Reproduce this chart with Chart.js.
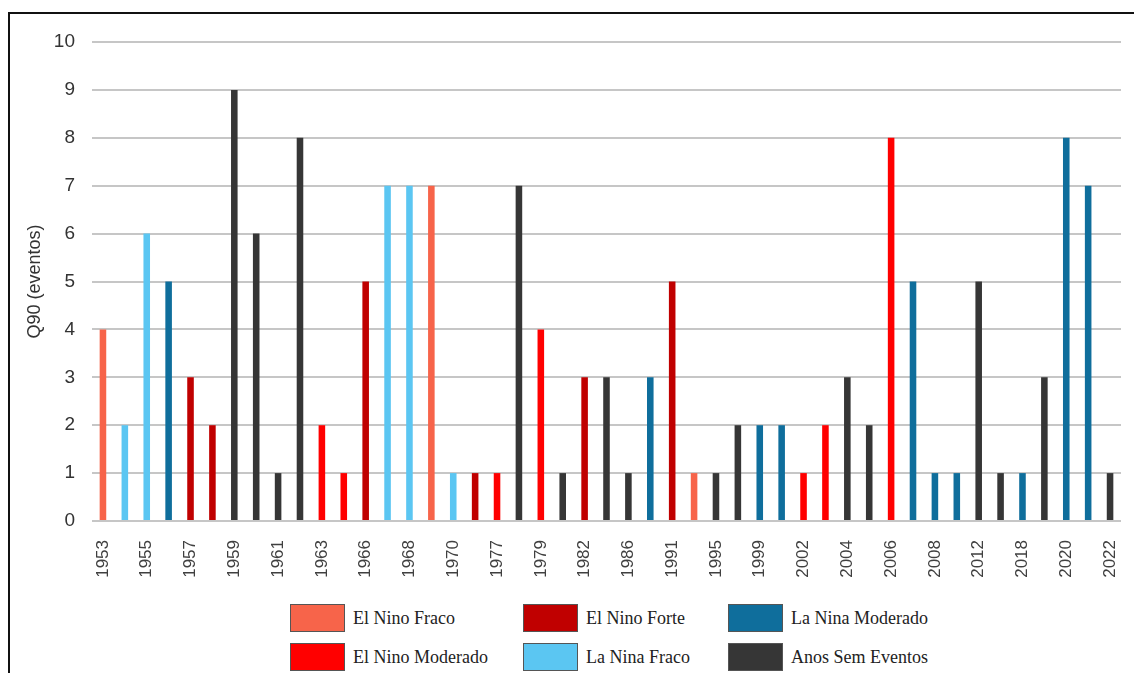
<!DOCTYPE html>
<html>
<head>
<meta charset="utf-8">
<script src="https://cdn.jsdelivr.net/npm/chart.js@4.4.1/dist/chart.umd.min.js"></script>
<style>
  body { margin: 0; background: #fff; width: 1134px; height: 673px; overflow: hidden; position: relative; }
  .frame { position: absolute; left: 8px; top: 12px; width: 1140px; height: 680px;
           border-left: 2px solid #111; border-top: 2px solid #111; }
  #chartBox { position: absolute; left: 0; top: 0; }
  .legend-item { position: absolute; display: flex; align-items: center;
                 font-family: "Liberation Serif", serif; font-size: 18px; color: #222; white-space: nowrap; }
  .legend-item span.box { display: inline-block; width: 53px; height: 26px; border: 1px solid #555; margin-right: 8px; }
</style>
</head>
<body>
<div class="frame"></div>
<canvas id="chartBox" width="1134" height="600"></canvas>
<div id="legend"></div>
<script>
// anos (apenas os de índice par aparecem no eixo)
const years = [1953, 1954, 1955, 1956, 1957, 1958, 1959, 1960, 1961, 1962, 1963, 1965,
               1966, 1967, 1968, 1969, 1970, 1972, 1977, 1978, 1979, 1981, 1982, 1985,
               1986, 1988, 1991, 1994, 1995, 1997, 1999, 2000, 2002, 2003, 2004, 2005,
               2006, 2007, 2008, 2010, 2012, 2014, 2018, 2019, 2020, 2021, 2022];

// Q90 (eventos) por ano
const q90 = [4, 2, 6, 5, 3, 2, 9, 6, 1, 8, 2, 1,
             5, 7, 7, 7, 1, 1, 1, 7, 4, 1, 3, 3,
             1, 3, 5, 1, 1, 2, 2, 2, 1, 2, 3, 2,
             8, 5, 1, 1, 5, 1, 1, 3, 8, 7, 1];

// classificação ENSO de cada ano
const enso = ['ENF', 'LNF', 'LNF', 'LNM', 'ENFo', 'ENFo', 'SE', 'SE', 'SE', 'SE', 'ENM', 'ENM',
              'ENFo', 'LNF', 'LNF', 'ENF', 'LNF', 'ENFo', 'ENM', 'SE', 'ENM', 'SE', 'ENFo', 'SE',
              'SE', 'LNM', 'ENFo', 'ENF', 'SE', 'SE', 'LNM', 'LNM', 'ENM', 'ENM', 'SE', 'SE',
              'ENM', 'LNM', 'LNM', 'LNM', 'SE', 'SE', 'LNM', 'SE', 'LNM', 'LNM', 'SE'];

const categoryKeys = ['ENF', 'ENM', 'ENFo', 'LNF', 'LNM', 'SE'];
const categoryNames = ['El Nino Fraco', 'El Nino Moderado', 'El Nino Forte',
                       'La Nina Fraco', 'La Nina Moderado', 'Anos Sem Eventos'];
const categoryColors = ['#F7644A', '#FF0000', '#C00000', '#5BC6F2', '#0F6E9C', '#363636'];

const yTicks = [0, 1, 2, 3, 4, 5, 6, 7, 8, 9, 10];

const datasets = categoryKeys.map((key, c) => ({
    label: categoryNames[c],
    data: q90.map((v, i) => enso[i] === key ? v : null),
    backgroundColor: categoryColors[c],
    borderWidth: 0,
    barPercentage: 0.3,
    categoryPercentage: 1.0
}));

new Chart(document.getElementById('chartBox'), {
    type: 'bar',
    data: { labels: years.map(String), datasets: datasets },
    options: {
        responsive: false,
        animation: false,
        layout: { padding: { top: 42, right: 13, left: 0, bottom: 0 } },
        plugins: { legend: { display: false }, tooltip: { enabled: false } },
        scales: {
            x: {
                stacked: true,
                grid: { display: false },
                border: { display: false },
                ticks: {
                    autoSkip: false,
                    minRotation: 90,
                    maxRotation: 90,
                    padding: 11,
                    color: '#404040',
                    font: { family: 'Liberation Sans', size: 17 },
                    callback: (v, i) => i % 2 === 0 ? years[i] : ''
                },
                afterFit: (scale) => {
                    scale.height = 79;
                    scale.paddingLeft = 0;
                    scale.paddingRight = 0;
                }
            },
            y: {
                stacked: true,
                min: yTicks[0],
                max: yTicks[yTicks.length - 1],
                afterBuildTicks: (scale) => { scale.ticks = yTicks.map(v => ({ value: v })); },
                grid: { color: '#c6c6c6', lineWidth: 2, drawTicks: false },
                border: { display: false },
                ticks: {
                    padding: 17,
                    color: '#333',
                    font: { family: 'Liberation Sans', size: 19 }
                },
                title: {
                    display: true,
                    text: 'Q90 (eventos)',
                    color: '#333',
                    font: { family: 'Liberation Sans', size: 18 },
                    padding: { top: 24, bottom: 0 }
                },
                afterFit: (scale) => { scale.width = 92; }
            }
        }
    }
});

// legenda em duas linhas, três colunas
const legendCols = [290, 523, 728];
const legendRows = [604, 643];
const legend = document.getElementById('legend');
categoryNames.forEach((name, c) => {
    const item = document.createElement('div');
    item.className = 'legend-item';
    item.style.left = legendCols[Math.floor(c / 2)] + 'px';
    item.style.top = legendRows[c % 2] + 'px';
    item.innerHTML = '<span class="box" style="background:' + categoryColors[c] + '"></span>' + name;
    legend.appendChild(item);
});
</script>
</body>
</html>
